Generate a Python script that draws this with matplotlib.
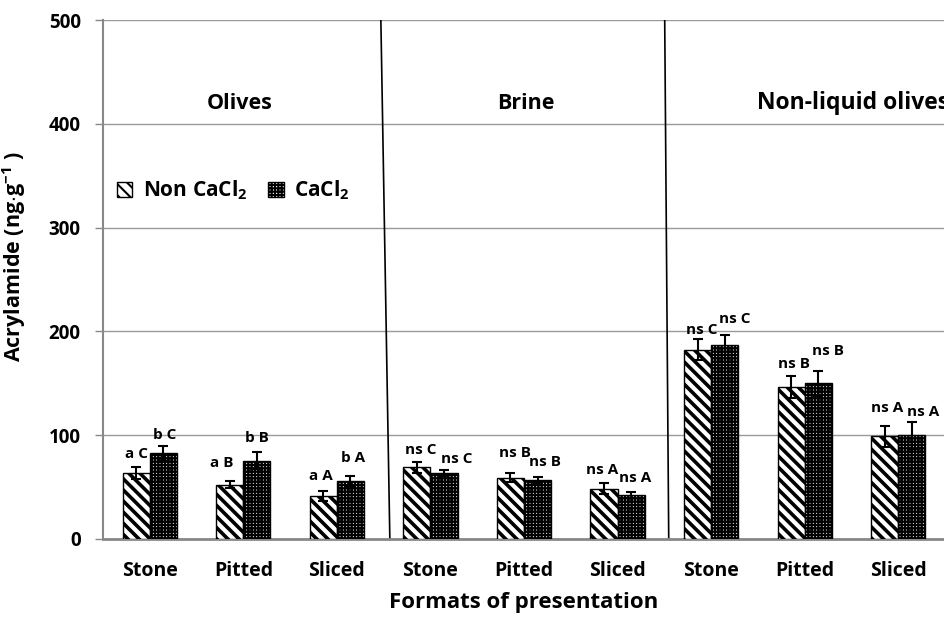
import matplotlib
matplotlib.use("Agg")
import matplotlib.pyplot as plt
import numpy as np
from matplotlib.patches import Patch

plt.rcParams['font.family'] = ['Open Sans', 'DejaVu Sans']
plt.rcParams['font.weight'] = 'bold'
plt.rcParams['mathtext.fontset'] = 'custom'
plt.rcParams['mathtext.rm'] = 'Open Sans:bold'
plt.rcParams['mathtext.bf'] = 'Open Sans:bold'

categories = ["Stone", "Pitted", "Sliced", "Stone", "Pitted", "Sliced", "Stone", "Pitted", "Sliced"]
groups = ["Olives", "Brine", "Non-liquid olives"]

non_cacl2 = [63.5, 52.5, 41.5, 69, 59, 48.5, 182.5, 146.5, 99]
non_cacl2_err = [6, 3.5, 5, 5, 4.5, 5, 10, 11, 10]
cacl2 = [82.5, 75.5, 55.5, 63.5, 56.5, 42.5, 187, 150, 100]
cacl2_err = [7, 8, 5.5, 3, 3, 3, 10, 12, 13]

non_labels = ["a C", "a B", "a A", "ns C", "ns B", "ns A", "ns C", "ns B", "ns A"]
cacl2_labels = ["b C", "b B", "b A", "ns C", "ns B", "ns A", "ns C", "ns B", "ns A"]

# label offsets above error bar (data units) and horizontal shift (points)
non_dy = [6, 10, 7, 5, 13, 6, 2, 4, 10]
non_dx = [0, -6, -2, 3, 3, -1, 3, 2, 2]
ca_dy = [4, 7, 10, 4, 8, 7, 8, 12, 3]
ca_dx = [1, 0, 2, 9, 5, 3, 7, 7, 8]

fig = plt.figure(figsize=(9.45, 6.19), dpi=100)
ax = fig.add_axes([103/945, 1-539/619, 842/945, 519/619])

x = np.arange(len(categories))
w = 0.29

plt.rcParams['hatch.linewidth'] = 2.6
b1 = ax.bar(x - w/2, non_cacl2, w, facecolor='white', edgecolor='black', hatch='\\\\\\', linewidth=1.0, zorder=3)
plt.rcParams['hatch.linewidth'] = 1.6
b2 = ax.bar(x + w/2, cacl2, w, facecolor='white', edgecolor='black', hatch='+++++', linewidth=1.0, zorder=3)

ax.errorbar(x - w/2, non_cacl2, yerr=non_cacl2_err, fmt='none', ecolor='black', elinewidth=1.5, capsize=3.5, capthick=1.5, zorder=4)
ax.errorbar(x + w/2, cacl2, yerr=cacl2_err, fmt='none', ecolor='black', elinewidth=1.5, capsize=3.5, capthick=1.5, zorder=4)

for i in range(len(categories)):
    ax.annotate(non_labels[i], (x[i] - w/2, non_cacl2[i] + non_cacl2_err[i] + non_dy[i]),
                xytext=(non_dx[i], 0), textcoords='offset points',
                ha='center', va='bottom', fontsize=11, fontweight='bold', zorder=5)
    ax.annotate(cacl2_labels[i], (x[i] + w/2, cacl2[i] + cacl2_err[i] + ca_dy[i]),
                xytext=(ca_dx[i], 0), textcoords='offset points',
                ha='center', va='bottom', fontsize=11, fontweight='bold', zorder=5)

ax.set_xlim(-0.5, 8.5)
ax.set_ylim(0, 500)
ax.set_yticks(range(0, 501, 100))
ax.yaxis.grid(True, color='#999999', linewidth=1.0, zorder=0)
ax.set_axisbelow(True)

ax.set_xticks(x)
ax.set_xticklabels(categories, fontsize=14, fontweight='bold')
ax.tick_params(axis='x', length=0, pad=16)
ax.tick_params(axis='y', length=6, width=1, color='#888888', labelsize=13.5, pad=10)
for t in ax.get_yticklabels():
    t.set_fontweight('bold')

for s in ['top', 'right']:
    ax.spines[s].set_visible(False)
ax.spines['left'].set_color('#888888')
ax.spines['left'].set_linewidth(1.5)
ax.spines['bottom'].set_color('#888888')
ax.spines['bottom'].set_linewidth(2)

# separators between groups
ax.plot([2.47, 2.566], [500, 0], color='black', linewidth=1.2, zorder=2)
ax.plot([5.504, 5.547], [500, 0], color='black', linewidth=1.2, zorder=2)

# group titles
ax.text(0.96, 420, groups[0], ha='center', va='center', fontsize=15.5, fontweight='bold')
ax.text(4.02, 420, groups[1], ha='center', va='center', fontsize=15.5, fontweight='bold')
ax.text(6.49, 420, groups[2], ha='left', va='center', fontsize=16.5, fontweight='bold', clip_on=False)

ax.set_ylabel(r'Acrylamide (ng$\cdot$g$^{-1}$ )', fontsize=15.5, fontweight='bold')
ax.yaxis.set_label_coords(-0.089, 0.543)
ax.set_xlabel('Formats of presentation', fontsize=16, fontweight='bold')
ax.xaxis.set_label_coords(0.5, -0.102)

plt.rcParams['hatch.linewidth'] = 1.5
handles = [Patch(facecolor='white', edgecolor='black', hatch='\\\\\\'),
           Patch(facecolor='white', edgecolor='black', hatch='+++++')]
ax.legend(handles, [r'Non CaCl$_2$', r'CaCl$_2$'], loc='center left',
          bbox_to_anchor=(-0.006, 0.672), ncol=2, frameon=False,
          handlelength=0.75, handleheight=0.75, handletextpad=0.5, columnspacing=1.0,
          prop={'size': 15, 'weight': 'bold'})

fig.savefig('out.png', dpi=100)
